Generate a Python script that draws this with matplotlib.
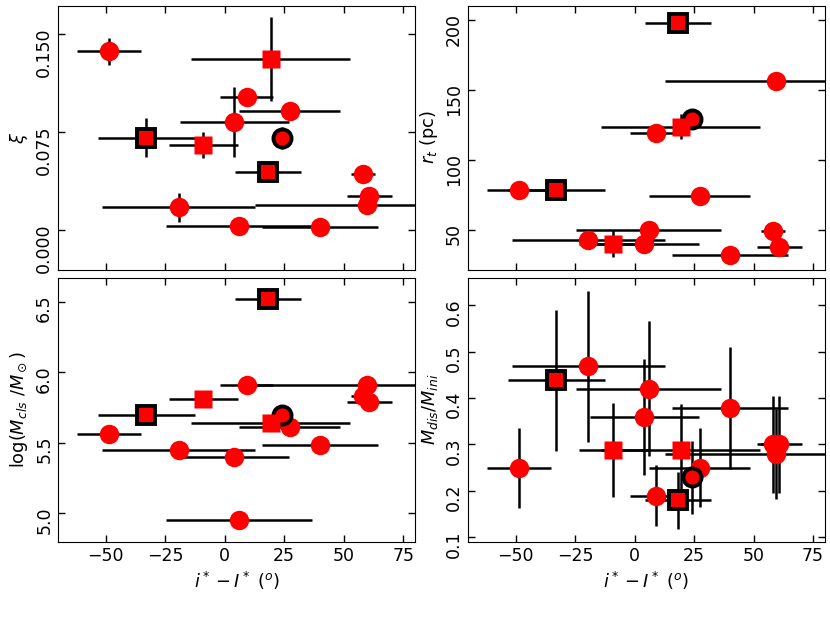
import matplotlib
matplotlib.use("Agg")
import matplotlib.pyplot as plt
import numpy as np

# cluster inclination offsets (shared by all panels)
x = [-48.6, -32.9, -19.4, -9.0, 4.0, 5.9, 9.2, 18.2, 19.3, 24.2, 27.3, 40.0, 58.2, 59.6, 60.8]
xerr = [13.5, 20.4, 32.3, 14.5, 22.9, 30.6, 11.0, 13.9, 33.4, 4.0, 21.2, 24.4, 5.0, 47.0, 9.5]
# c = circle, ec = circle with black edge, s = square, es = square with black edge
kind = ['c', 'es', 'c', 's', 'c', 'c', 'c', 'es', 's', 'ec', 'c', 'c', 'c', 'c', 'c']

xi = [0.137, 0.0709, 0.0177, 0.0652, 0.083, 0.0036, 0.102, 0.0447, 0.131, 0.0709,
      0.0914, 0.0028, 0.0432, 0.0198, 0.0267]
xi_err = [0.0105, 0.0148, 0.011, 0.0099, 0.027, 0.0, 0.0, 0.0, 0.032, 0.0085,
          0.007, 0.0, 0.0, 0.0, 0.0]

rt = [79.0, 79.0, 42.9, 40.5, 40.3, 50.5, 119.4, 197.4, 123.7, 129.6,
      74.3, 32.6, 49.5, 156.0, 38.0]
rt_err = [0, 0, 0, 9.5, 0, 0, 0, 0, 9.0, 0, 0, 0, 0, 0, 0]

logm = [5.56, 5.698, 5.449, 5.811, 5.40, 4.951, 5.908, 6.519, 5.644, 5.694,
        5.609, 5.482, 5.83, 5.91, 5.79]
logm_err = [0] * 15

mdis = [0.249, 0.438, 0.469, 0.288, 0.359, 0.420, 0.189, 0.179, 0.288, 0.229,
        0.250, 0.379, 0.300, 0.280, 0.300]
mdis_err = [0.087, 0.153, 0.163, 0.101, 0.125, 0.146, 0.066, 0.062, 0.100, 0.079,
            0.086, 0.132, 0.104, 0.097, 0.104]

styles = {
    'c': dict(fmt='o', ms=14, mec='none'),
    'ec': dict(fmt='o', ms=13, mec='k', mew=2.8),
    's': dict(fmt='s', ms=13, mec='none'),
    'es': dict(fmt='s', ms=13, mec='k', mew=2.8),
}


def panel(ax, y, yerr):
    x_ = np.array(x)
    for k in ['c', 'ec', 's', 'es']:
        sel = np.array([kk == k for kk in kind])
        ax.errorbar(x_[sel], np.array(y)[sel],
                    xerr=np.array(xerr)[sel], yerr=np.array(yerr)[sel],
                    mfc='red', ecolor='k', elinewidth=1.8, capsize=0,
                    **styles[k])
    ax.set_xlim(-70, 80)
    ax.set_xticks([-50, -25, 0, 25, 50, 75])
    ax.tick_params(direction='in', top=True, right=True, length=5, width=1,
                   labelsize=12.5)
    ax.tick_params(axis='y', labelrotation=90)


fig, axes = plt.subplots(2, 2, figsize=(8.3, 6.23), dpi=100, sharex=True)
plt.subplots_adjust(left=0.07, right=0.994, top=0.991, bottom=0.1305,
                    wspace=0.148, hspace=0.03)

lab = 12.8

ax = axes[0, 0]
panel(ax, xi, xi_err)
ax.set_ylim(-0.03, 0.172)
ax.set_yticks([0.0, 0.075, 0.15])
ax.set_yticklabels(['0.000', '0.075', '0.150'])
ax.set_ylabel(r'$\xi$', fontsize=lab)

ax = axes[0, 1]
panel(ax, rt, rt_err)
ax.set_ylim(22, 210)
ax.set_yticks([50, 100, 150, 200])
ax.set_ylabel(r'$r_t$ (pc)', fontsize=lab)

ax = axes[1, 0]
panel(ax, logm, logm_err)
ax.set_ylim(4.8, 6.67)
ax.set_yticks([5.0, 5.5, 6.0, 6.5])
ax.set_ylabel(r'log($M_{cls}$ /$M_\odot$)', fontsize=lab)
ax.set_xlabel(r'$i^* - I^*\ (^o)$', fontsize=lab)

ax = axes[1, 1]
panel(ax, mdis, mdis_err)
ax.set_ylim(0.09, 0.66)
ax.set_yticks([0.1, 0.2, 0.3, 0.4, 0.5, 0.6])
ax.set_ylabel(r'$M_{dis}/M_{ini}$', fontsize=lab)
ax.set_xlabel(r'$i^* - I^*\ (^o)$', fontsize=lab)

plt.savefig("out.png", dpi=100)
